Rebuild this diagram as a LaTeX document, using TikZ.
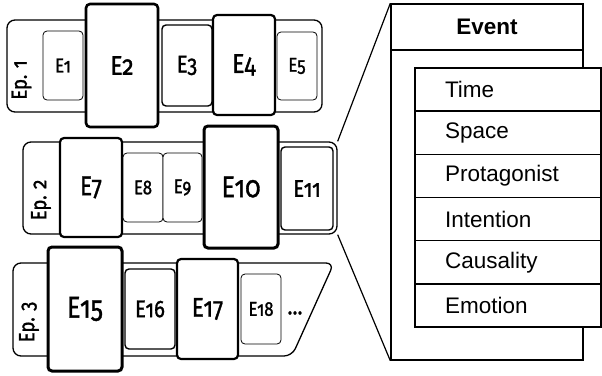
\documentclass[tikz,border=0pt]{standalone}
\usepackage{fontspec}
\setmainfont{Liberation Sans}
\newfontfamily\efont{Fira Sans}[Numbers=OldStyle, FakeBold=1.2, FakeStretch=0.84]
\begin{document}
\begin{tikzpicture}[x=1pt,y=-1pt,
  ebox/.style={draw, fill=white, rectangle, rounded corners=4pt, inner sep=0pt},
  thinb/.style={ebox, line width=0.8pt, font=\efont\fontsize{20}{20}\selectfont},
  medb/.style={ebox, line width=1.4pt, font=\efont\fontsize{24}{24}\selectfont},
  thickb/.style={ebox, line width=2.2pt, font=\efont\fontsize{27}{27}\selectfont},
  vthickb/.style={ebox, line width=3pt, font=\efont\fontsize{30}{30}\selectfont},
  epout/.style={draw, rectangle, rounded corners=8pt, line width=1.3pt, inner sep=0pt},
  eplabel/.style={rotate=90, font=\efont\fontsize{22}{22}\selectfont, inner sep=0pt},
  rowbox/.style={draw, fill=white, rectangle, line width=1.4pt, minimum width=186pt, minimum height=43.17pt, inner sep=0pt, font=\fontsize{22.5}{22.5}\selectfont},
  panel/.style={draw, rectangle, line width=1.4pt, inner sep=0pt},
  conn/.style={line width=1.2pt}
]
\useasboundingbox (0,0) rectangle (602,375);

% Episode 1
\node[epout, minimum width=315pt, minimum height=92pt] (ep1) at (164.5,66) {};
\node[eplabel] (ep1l) at (21.5,80) {Ep. 1};
\node[thinb, minimum width=40pt, minimum height=69pt] (e1) at (63,65.5) {E1};
\node[thickb, line width=2.6pt, minimum width=72pt, minimum height=123pt] (e2) at (122,65.5) {E2};
\node[medb, minimum width=50pt, minimum height=81pt] (e3) at (187,65.5) {E3};
\node[thickb, minimum width=62pt, minimum height=100pt] (e4) at (244,65) {E4};
\node[thinb, minimum width=40pt, minimum height=68pt] (e5) at (297,66) {E5};

% Episode 2
\node[epout, minimum width=314pt, minimum height=92pt] (ep2) at (180,188) {};
\node[eplabel] (ep2l) at (41,200) {Ep. 2};
\node[thickb, minimum width=62pt, minimum height=99pt] (e7) at (91,187.5) {E7};
\node[thinb, minimum width=40pt, minimum height=69pt] (e8) at (143,187.5) {E8};
\node[thinb, minimum width=39pt, minimum height=69pt] (e9) at (182.5,187.5) {E9};
\node[vthickb, minimum width=74pt, minimum height=122pt] (e10) at (241,187) {E10};
\node[medb, minimum width=52pt, minimum height=83pt] (e11) at (307,188.5) {E11};

% Episode 3
\draw[line width=1.3pt, rounded corners=8pt] (13,263) -- (334,263) -- (292,356) -- (13,356) -- cycle;
\node[eplabel] (ep3l) at (29,322) {Ep. 3};
\node[vthickb, minimum width=74pt, minimum height=124pt] (e15) at (85,309) {E15};
\node[medb, minimum width=50pt, minimum height=80pt] (e16) at (150,309) {E16};
\node[thickb, minimum width=61pt, minimum height=100pt] (e17) at (207.5,309) {E17};
\node[thinb, minimum width=40pt, minimum height=70pt] (e18) at (261,309) {E18};
\node[font=\efont\fontsize{24}{24}\selectfont, inner sep=0pt] (dots) at (295,313) {…};

% Event panel
\node[panel, minimum width=192pt, minimum height=46pt, font=\bfseries\fontsize{22.5}{22.5}\selectfont] (evh) at (487,27) {Event};
\node[panel, minimum width=192pt, minimum height=310pt] (evb) at (487,205) {};
\node[rowbox] (r1) at (508,89.6) {\makebox[186pt][l]{\hspace*{30pt}Time}};
\node[rowbox] (r2) at (508,132.75) {\makebox[186pt][l]{\hspace*{30pt}Space}};
\node[rowbox] (r3) at (508,175.9) {\makebox[186pt][l]{\hspace*{30pt}Protagonist}};
\node[rowbox] (r4) at (508,219.1) {\makebox[186pt][l]{\hspace*{30pt}Intention}};
\node[rowbox] (r5) at (508,262.25) {\makebox[186pt][l]{\hspace*{30pt}Causality}};
\node[rowbox] (r6) at (508,305.4) {\makebox[186pt][l]{\hspace*{30pt}Emotion}};

% Zoom connectors
\draw[conn] (ep2.north east) -- (evh.north west);
\draw[conn] (ep2.south east) -- (evb.south west);
\end{tikzpicture}
\end{document}
